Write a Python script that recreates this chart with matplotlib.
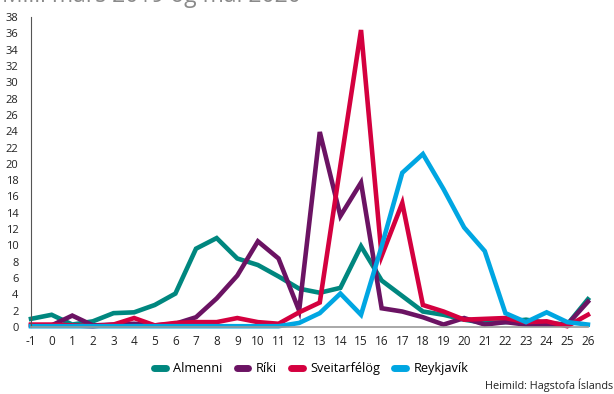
import matplotlib
matplotlib.use("Agg")
import matplotlib.pyplot as plt
from matplotlib.lines import Line2D

plt.rcParams['font.family'] = ['Open Sans', 'DejaVu Sans']

# vikur
vikur = list(range(-1, 27))

almenni = [1.0, 1.5, 0.3, 0.7, 1.7, 1.8, 2.7, 4.1, 9.6, 10.9, 8.4, 7.6, 6.2, 4.7, 4.2, 4.8,
           9.9, 5.7, 3.8, 1.9, 1.5, 0.9, 0.5, 0.6, 0.9, 0.5, 0.3, 3.4]
riki = [0.2, 0.2, 1.4, 0.2, 0.3, 0.4, 0.2, 0.4, 1.2, 3.5, 6.3, 10.5, 8.4, 2.0, 23.9, 13.6,
        17.7, 2.3, 1.9, 1.2, 0.3, 1.1, 0.3, 0.6, 0.3, 0.3, 0.3, 3.1]
sveitarfelog = [0.3, 0.3, 0.2, 0.1, 0.3, 1.1, 0.2, 0.5, 0.6, 0.6, 1.1, 0.6, 0.4, 1.8, 3.0, 19.8,
                36.4, 8.7, 15.2, 2.7, 1.9, 0.9, 1.0, 1.1, 0.6, 0.7, 0.1, 1.5]
reykjavik = [0.1, 0.1, 0.1, 0.1, 0.1, 0.1, 0.1, 0.1, 0.1, 0.1, 0.1, 0.1, 0.1, 0.5, 1.7, 4.1,
             1.5, 9.9, 18.9, 21.2, 16.9, 12.2, 9.3, 1.7, 0.6, 1.8, 0.6, 0.3]

nofn = ['Almenni', 'Ríki', 'Sveitarfélög', 'Reykjavík']
litir = ['#00877f', '#6b1363', '#d4003f', '#00a6e2']
xlabels = [str(v) for v in vikur]
yticks = list(range(0, 39, 2))

fig = plt.figure(figsize=(6.14, 3.94), dpi=100)
ax = fig.add_axes([0.0505, 0.170, 0.907, 0.787])

for gogn, litur in zip([almenni, riki, sveitarfelog, reykjavik], litir):
    ax.plot(vikur, gogn, color=litur, lw=3.3, solid_joinstyle='miter', clip_on=False)

ax.set_xlim(-1, 26)
ax.set_ylim(0, 38)
ax.set_xticks(vikur)
ax.set_xticklabels(xlabels)
ax.set_yticks(yticks)
ax.tick_params(length=0, labelsize=8, colors='#222222')
ax.tick_params(axis='x', pad=6, labelsize=8.5)
ax.tick_params(axis='y', pad=9)
for s in ['top', 'right']:
    ax.spines[s].set_visible(False)
ax.spines['left'].set_color('#555555')
ax.spines['left'].set_linewidth(0.8)
ax.spines['bottom'].set_color('#999999')
ax.spines['bottom'].set_linewidth(1.2)

handles = [Line2D([0], [0], color=c, lw=5, solid_capstyle='round') for c in litir]
fig.legend(handles, nofn, loc='center', bbox_to_anchor=(0.507, 0.064), ncol=4, frameon=False,
           fontsize=9.2, handlelength=0.9, handletextpad=0.6, columnspacing=1.1)

fig.text(0.998, 0.004, 'Heimild: Hagstofa Íslands', ha='right', va='bottom', fontsize=7.8,
         color='#222222')
fig.text(0.003, 0.994, 'Milli mars 2019 og maí 2020', ha='left', va='baseline', fontsize=16.5,
         color='#8a8a8a')

fig.savefig('out.png', dpi=100)
